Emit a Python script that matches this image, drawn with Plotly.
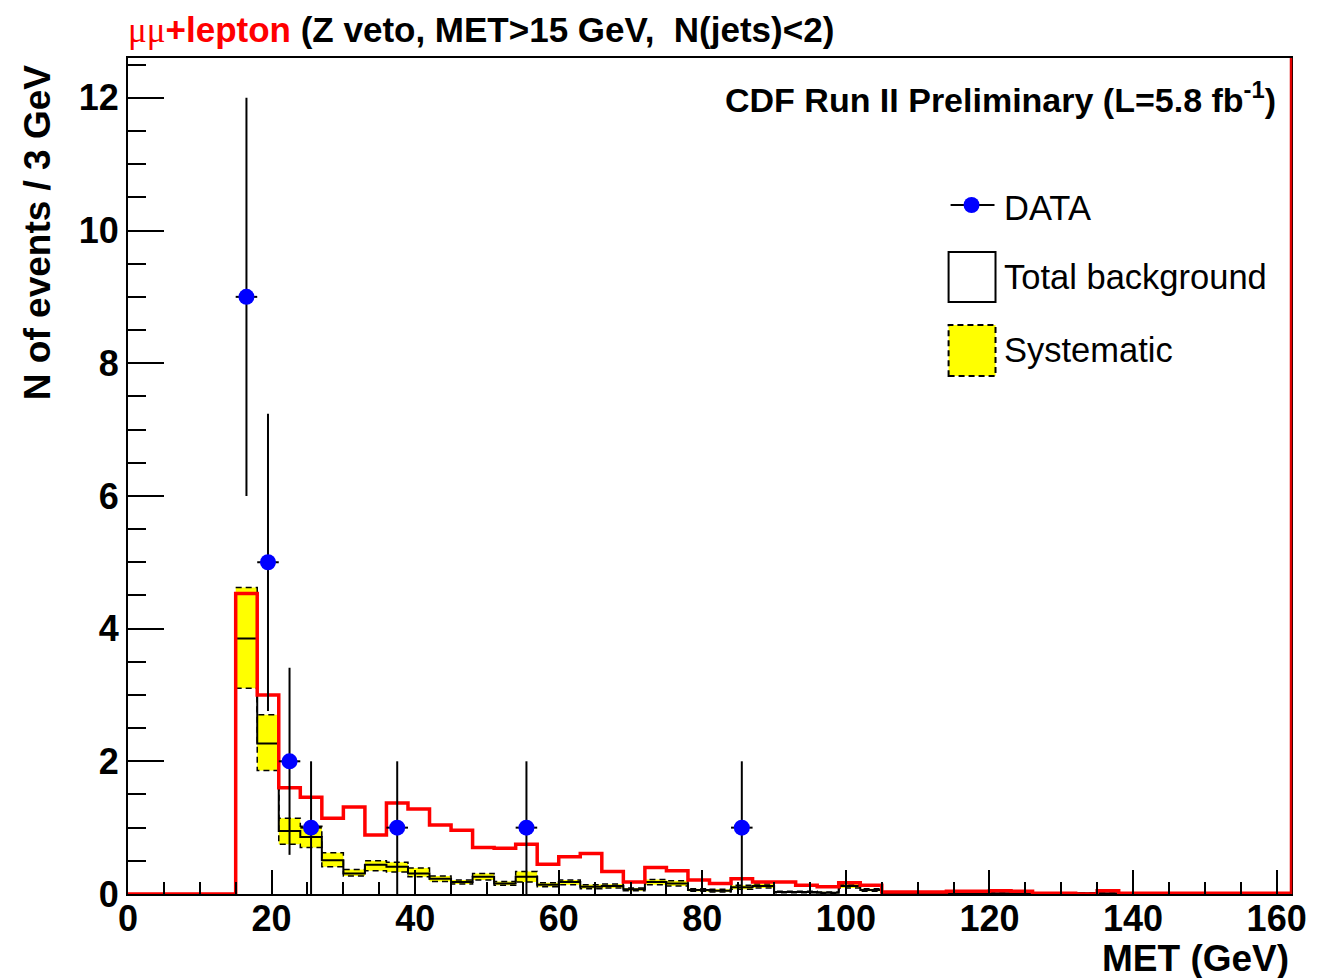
import plotly.graph_objects as go

# ---------------- data ----------------
bin_width = 3
first_edge = 15  # first filled bin starts at 15 GeV (histogram range 0-162)
x_max = 162
y_max = 12.6

bkg = [3.85, 2.27, 0.95, 0.86, 0.51, 0.31, 0.44, 0.41, 0.31, 0.23,
       0.18, 0.26, 0.16, 0.26, 0.14, 0.18, 0.11, 0.12, 0.07, 0.18,
       0.16, 0.06, 0.05, 0.10, 0.12, 0.03, 0.03, 0.02, 0.12, 0.06,
       0.01, 0.01, 0.01, 0.01, 0.01, 0.01, 0.01, 0.01, 0.01, 0.01,
       0.01, 0.01, 0.01, 0.01, 0.01, 0.01, 0.01, 0.01, 0.01]
bkg_up = [4.62, 2.70, 1.14, 1.02, 0.62, 0.37, 0.50, 0.48, 0.39, 0.27,
          0.21, 0.31, 0.19, 0.34, 0.17, 0.21, 0.14, 0.15, 0.09, 0.22,
          0.20, 0.08, 0.07, 0.13, 0.15, 0.04, 0.04, 0.03, 0.15, 0.08,
          0.015, 0.015, 0.015, 0.015, 0.015, 0.015, 0.015, 0.015, 0.015, 0.015,
          0.015, 0.015, 0.015, 0.015, 0.015, 0.015, 0.015, 0.015, 0.015]
bkg_down = [3.10, 1.86, 0.75, 0.70, 0.41, 0.27, 0.35, 0.33, 0.26, 0.19,
            0.15, 0.21, 0.13, 0.18, 0.11, 0.14, 0.08, 0.09, 0.05, 0.14,
            0.12, 0.04, 0.03, 0.07, 0.09, 0.02, 0.02, 0.01, 0.09, 0.04,
            0.005, 0.005, 0.005, 0.005, 0.005, 0.005, 0.005, 0.005, 0.005, 0.005,
            0.005, 0.005, 0.005, 0.005, 0.005, 0.005, 0.005, 0.005, 0.005]
signal = [4.53, 3.00, 1.60, 1.46, 1.14, 1.31, 0.89, 1.37, 1.28, 1.04,
          0.96, 0.70, 0.69, 0.75, 0.45, 0.56, 0.61, 0.34, 0.18, 0.40,
          0.35, 0.21, 0.16, 0.23, 0.18, 0.18, 0.13, 0.11, 0.17, 0.13,
          0.03, 0.03, 0.03, 0.04, 0.04, 0.05, 0.04, 0.01, 0.01, 0.00,
          0.05, 0.01, 0.01, 0.01, 0.01, 0.01, 0.01, 0.01, 0.01]

data_x = [16.5, 19.5, 22.5, 25.5, 37.5, 55.5, 85.5]
data_y = [9, 5, 2, 1, 1, 1, 1]
data_err = [3.0, 2.24, 1.41, 1.0, 1.0, 1.0, 1.0]
data_xerr = [1.5, 1.5, 1.5, 1.5, 1.5, 1.5, 1.5]

x_ticks = [0, 20, 40, 60, 80, 100, 120, 140, 160]
y_ticks = [0, 2, 4, 6, 8, 10, 12]

# ---------------- helpers ----------------
edges = [first_edge + i * bin_width for i in range(len(bkg) + 1)]


def step_xy(vals):
    xs = [0] + edges
    ys = [0] + list(vals) + [vals[-1]]
    return xs, ys


def band_xy(up, down):
    xs, ys = [], []
    for i, v in enumerate(up):
        xs += [edges[i], edges[i + 1]]
        ys += [v, v]
    for i in range(len(down) - 1, -1, -1):
        xs += [edges[i + 1], edges[i]]
        ys += [down[i], down[i]]
    return xs, ys


W, H = 1319, 978
L, R, T, B = 128, 1293, 58, 894


def px(xp):
    return (xp - L) / (R - L)


def py(yp):
    return (B - yp) / (B - T)


FONT = "Liberation Sans, Arial, Helvetica, sans-serif"

fig = go.Figure()

# systematic band
bx, by = band_xy(bkg_up, bkg_down)
fig.add_trace(go.Scatter(x=bx, y=by, fill="toself", fillcolor="#ffff00",
                         line=dict(width=0), mode="lines", hoverinfo="skip",
                         showlegend=False))
# dashed band edges
for arr in (bkg_up, bkg_down):
    sx, sy = step_xy(arr)
    fig.add_trace(go.Scatter(x=sx[1:], y=sy[1:], mode="lines", line_shape="hv",
                             line=dict(color="black", width=1.5, dash="6px,4px"),
                             showlegend=False, hoverinfo="skip"))
# total background
sx, sy = step_xy(bkg)
fig.add_trace(go.Scatter(x=sx, y=sy, mode="lines", line_shape="hv",
                         line=dict(color="black", width=2), showlegend=False))
# red histogram
sx, sy = step_xy(signal)
fig.add_trace(go.Scatter(x=sx, y=sy, mode="lines", line_shape="hv",
                         line=dict(color="#ff0000", width=3.5), showlegend=False))
# data
fig.add_trace(go.Scatter(x=data_x, y=data_y, mode="markers",
                         marker=dict(color="#0000ff", size=16, line=dict(width=0)),
                         error_y=dict(type="data", array=data_err, color="black",
                                      thickness=2, width=0),
                         error_x=dict(type="data", array=data_xerr, color="black",
                                      thickness=2, width=0),
                         showlegend=False))

shapes = []
# frame: right border red
shapes.append(dict(type="line", xref="paper", yref="paper", x0=1, x1=1, y0=0, y1=1,
                   line=dict(color="#e00000", width=2.5), layer="above"))

# legend symbols
lx0, lx1 = 950, 997
# DATA
shapes.append(dict(type="line", xref="paper", yref="paper", x0=px(952), x1=px(996),
                   y0=py(205), y1=py(205), line=dict(color="black", width=2)))
shapes.append(dict(type="circle", xref="paper", yref="paper", x0=px(965), x1=px(981),
                   y0=py(213), y1=py(197), fillcolor="#0000ff", line=dict(width=0)))
# Total background
shapes.append(dict(type="rect", xref="paper", yref="paper", x0=px(lx0), x1=px(lx1),
                   y0=py(302), y1=py(252), fillcolor="white",
                   line=dict(color="black", width=2)))
# Systematic
shapes.append(dict(type="rect", xref="paper", yref="paper", x0=px(lx0), x1=px(lx1),
                   y0=py(376), y1=py(325), fillcolor="#ffff00",
                   line=dict(color="black", width=2, dash="6px,4px")))

annotations = []
leg_font = dict(family=FONT, size=34.5, color="black")
for txt, yp in (("DATA", 208), ("Total background", 277), ("Systematic", 350)):
    annotations.append(dict(text=txt, xref="paper", yref="paper", x=px(1004), y=py(yp),
                            xanchor="left", yanchor="middle", showarrow=False,
                            font=leg_font))

# title
annotations.append(dict(
    text="<span style='color:#ff0000;font-family:Liberation Serif, Times New Roman, serif;font-weight:normal'>μμ</span>"
         "<span style='color:#ff0000'>+lepton</span> (Z veto, MET>15 GeV,  N(jets)<2)",
    xref="paper", yref="paper", x=px(126), y=py(30), xanchor="left", yanchor="middle",
    showarrow=False, font=dict(family=FONT, size=35, color="black", weight="bold")))
# CDF label
annotations.append(dict(
    text="CDF Run II Preliminary (L=5.8 fb<sup>-1</sup>)",
    xref="paper", yref="paper", x=px(1280), y=py(97), xanchor="right", yanchor="middle",
    showarrow=False, font=dict(family=FONT, size=34, color="black", weight="bold")))
# axis titles
annotations.append(dict(
    text="N of events / 3 GeV", xref="paper", yref="paper", x=px(38), y=py(233),
    xanchor="center", yanchor="middle", textangle=-90, showarrow=False,
    font=dict(family=FONT, size=37, color="black", weight="bold")))
annotations.append(dict(
    text="MET (GeV)", xref="paper", yref="paper", x=px(1293), y=py(958),
    xanchor="right", yanchor="middle", showarrow=False,
    font=dict(family=FONT, size=37, color="black", weight="bold")))

fig.update_layout(
    width=W, height=H,
    margin=dict(l=L, r=W - R, t=T, b=H - B),
    paper_bgcolor="white", plot_bgcolor="white",
    shapes=shapes, annotations=annotations,
    showlegend=False,
    xaxis=dict(range=[0, x_max], tickvals=x_ticks, ticktext=[str(v) for v in x_ticks],
               ticks="inside", ticklen=24, tickwidth=2, tickcolor="black",
               minor=dict(dtick=5, ticks="inside", ticklen=12, tickwidth=2, tickcolor="black"),
               showline=True, linecolor="black", linewidth=2, mirror=True,
               showgrid=False, zeroline=False, ticklabelstandoff=-8,
               tickfont=dict(family=FONT, size=36, color="black", weight="bold")),
    yaxis=dict(range=[0, y_max], tickvals=y_ticks, ticktext=[str(v) for v in y_ticks],
               ticks="inside", ticklen=36, tickwidth=2, tickcolor="black",
               minor=dict(dtick=0.5, ticks="inside", ticklen=18, tickwidth=2, tickcolor="black"),
               showline=True, linecolor="black", linewidth=2, mirror=True,
               showgrid=False, zeroline=False,
               tickfont=dict(family=FONT, size=36, color="black", weight="bold")),
)

fig.write_html("out.html")
